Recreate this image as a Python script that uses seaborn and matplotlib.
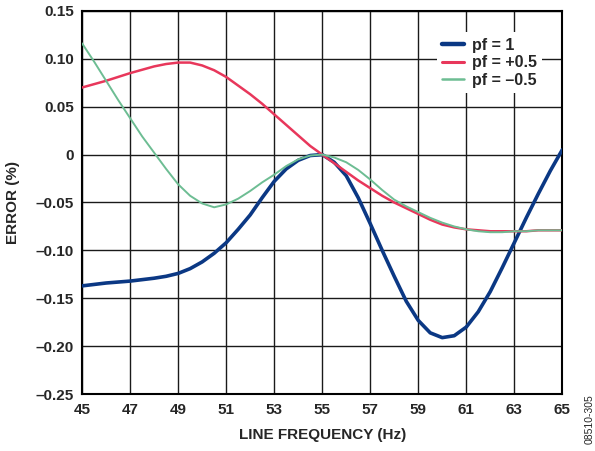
import pandas as pd
import seaborn as sns
import matplotlib.pyplot as plt
from matplotlib.ticker import FixedLocator

# Frequency points (Hz)
freq = [45, 45.5, 46, 46.5, 47, 47.5, 48, 48.5, 49, 49.5, 50, 50.5, 51, 51.5, 52,
        52.5, 53, 53.5, 54, 54.5, 55, 55.5, 56, 56.5, 57, 57.5, 58, 58.5, 59, 59.5,
        60, 60.5, 61, 61.5, 62, 62.5, 63, 63.5, 64, 64.5, 65]

# Error (%)
err_pf1 = [-0.137, -0.1355, -0.134, -0.133, -0.132, -0.1305, -0.129, -0.127, -0.124,
           -0.119, -0.112, -0.103, -0.092, -0.078, -0.063, -0.045, -0.028, -0.015,
           -0.006, -0.001, 0.0, -0.008, -0.022, -0.045, -0.072, -0.100, -0.127,
           -0.153, -0.173, -0.186, -0.191, -0.189, -0.180, -0.164, -0.143, -0.118,
           -0.092, -0.066, -0.041, -0.017, 0.005]
err_pf_pos = [0.070, 0.0735, 0.077, 0.081, 0.085, 0.0885, 0.092, 0.0945, 0.096,
              0.096, 0.093, 0.088, 0.081, 0.072, 0.063, 0.053, 0.042, 0.031, 0.020,
              0.009, 0.0, -0.009, -0.018, -0.027, -0.035, -0.043, -0.050, -0.056,
              -0.062, -0.068, -0.073, -0.076, -0.078, -0.079, -0.080, -0.080, -0.080,
              -0.080, -0.079, -0.079, -0.079]
err_pf_neg = [0.116, 0.097, 0.077, 0.057, 0.038, 0.019, 0.002, -0.015, -0.031,
              -0.043, -0.051, -0.055, -0.052, -0.046, -0.038, -0.029, -0.021, -0.012,
              -0.005, -0.001, 0.0, -0.003, -0.008, -0.016, -0.026, -0.037, -0.047,
              -0.054, -0.060, -0.066, -0.071, -0.075, -0.078, -0.080, -0.081, -0.081,
              -0.080, -0.080, -0.079, -0.079, -0.079]

labels = ['pf = 1', 'pf = +0.5', 'pf = \u20130.5']
x_ticks = [45, 47, 49, 51, 53, 55, 57, 59, 61, 63, 65]
y_ticks = [-0.25, -0.20, -0.15, -0.10, -0.05, 0, 0.05, 0.10, 0.15]
y_tick_labels = ['\u20130.25', '\u20130.20', '\u20130.15', '\u20130.10', '\u20130.05',
                 '0', '0.05', '0.10', '0.15']

df = pd.DataFrame({
    'Frequency': freq * 3,
    'Error': err_pf1 + err_pf_pos + err_pf_neg,
    'Series': [labels[0]] * len(freq) + [labels[1]] * len(freq) + [labels[2]] * len(freq),
})

sns.set_style('white')
plt.rcParams['font.family'] = ['Liberation Sans', 'DejaVu Sans']
plt.rcParams['font.weight'] = 'bold'

fig = plt.figure(figsize=(5.95, 4.51), dpi=100)
ax = fig.add_axes([0.138, 0.126, 0.807, 0.850])

palette = {labels[0]: '#0b3884', labels[1]: '#e8375b', labels[2]: '#6dbd93'}
sns.lineplot(data=df, x='Frequency', y='Error', hue='Series', palette=palette,
             ax=ax, legend=True)
widths = [2.6, 1.8, 1.4]
for line, w in zip(ax.get_lines(), widths):
    line.set_linewidth(w)
    line.set_zorder(3)
    line.set_solid_joinstyle('round')

ax.set_xlim(45, 65)
ax.set_ylim(-0.25, 0.15)
ax.xaxis.set_major_locator(FixedLocator(x_ticks))
ax.set_xticklabels([str(t) for t in x_ticks])
ax.set_yticks(y_ticks)
ax.set_yticklabels(y_tick_labels)
ax.tick_params(axis='both', labelsize=11, length=0, pad=6)
for lbl in ax.get_xticklabels() + ax.get_yticklabels():
    lbl.set_fontweight('bold')

ax.grid(True, color='#1a1a1a', linewidth=1.0)
ax.set_axisbelow(True)
for s in ax.spines.values():
    s.set_color('black')
    s.set_linewidth(1.5)

ax.set_xlabel('LINE FREQUENCY (Hz)', fontsize=11, fontweight='bold', labelpad=8)
ax.set_ylabel('ERROR (%)', fontsize=11, fontweight='bold', labelpad=11)

handles, _ = ax.get_legend_handles_labels()
for h, w in zip(handles, [3.2, 2.2, 1.8]):
    h.set_linewidth(w)
leg = ax.legend(handles, labels, loc='upper right', bbox_to_anchor=(0.975, 0.965),
                frameon=True, fancybox=False, framealpha=1, edgecolor='none',
                fontsize=11.5, handlelength=1.35, handletextpad=0.5,
                labelspacing=0.15, borderpad=0.35)
for t in leg.get_texts():
    t.set_fontweight('bold')
leg.set_zorder(5)

fig.text(0.991, 0.015, '08510-305', rotation=90, fontsize=7.5, fontweight='normal',
         ha='center', va='bottom')

fig.savefig('out.png', dpi=100)
